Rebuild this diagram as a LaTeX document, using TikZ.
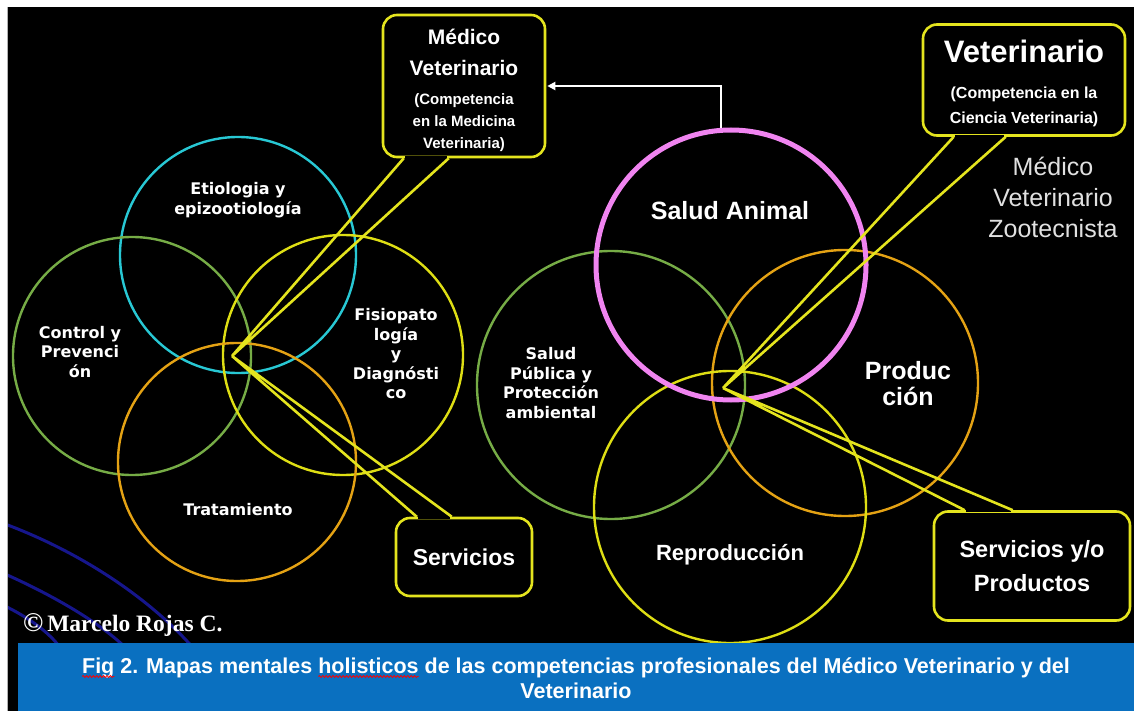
\documentclass[tikz,border=0pt]{standalone}
\usepackage{fontspec}
\setmainfont{Liberation Sans}
\newfontfamily\dejab{DejaVu Sans}
\newfontfamily\serifb{Liberation Serif}
\usetikzlibrary{arrows.meta,calc,decorations.pathmorphing}
\definecolor{cyanc}{RGB}{40,200,212}
\definecolor{greenc}{RGB}{118,172,70}
\definecolor{yelc}{RGB}{222,222,20}
\definecolor{orc}{RGB}{228,162,20}
\definecolor{pinkc}{RGB}{240,132,240}
\definecolor{callc}{RGB}{228,228,30}
\definecolor{bandc}{RGB}{10,112,192}
\definecolor{navyc}{RGB}{22,22,140}
\newlength\capW
\newlength\figW
\newlength\preW
\newlength\holW
\newcommand\capfont{\bfseries\fontsize{21.5}{25}\selectfont}
\begin{document}
\settowidth\capW{\capfont Fig 2. Mapas mentales holisticos de las competencias profesionales del Médico Veterinario y del}%
\settowidth\figW{\capfont Fig}%
\settowidth\preW{\capfont Fig 2. Mapas mentales }%
\settowidth\holW{\capfont holisticos}%
\begin{tikzpicture}[x=1pt,y=-1pt,
  ring/.style={circle,draw,line width=2.4pt,inner sep=0pt,minimum size=#1},
  wtxt/.style={text=white,align=center,inner sep=0pt},
  cfont/.style={font=\dejab\bfseries\fontsize{16}{19.5}\selectfont},
  callout/.style={draw=callc,line width=2.6pt,rounded corners=14pt,fill=black,text=white,align=center,inner sep=0pt},
  tail/.style={draw=callc,line width=2.6pt,line join=miter},
  gapcover/.style={draw=black,line width=4pt},
  arr/.style={draw=white,line width=2pt,-{Triangle[length=8pt,width=8pt]},shorten >=1pt},
  wave/.style={draw=red,line width=0.8pt,decorate,decoration={snake,amplitude=1pt,segment length=3.4pt}},
]
\useasboundingbox (0,0) rectangle (1134,711);
\fill[white] (0,0) rectangle (1134,711);
\fill[black] (7,7) rectangle (1134,711);
\draw[gray!60,line width=1pt] (7.5,7) -- (7.5,711);

% decorative arcs
\begin{scope}
\clip (8,7) rectangle (1134,643);
\draw[navyc,line width=3pt] (5,524) .. controls (80,552) and (150,598) .. (195,650);
\draw[navyc,line width=3pt] (5,574) .. controls (50,594) and (100,622) .. (128,650);
\draw[navyc,line width=3pt] (5,606) .. controls (25,616) and (48,630) .. (62,650);
\end{scope}

% left group circles
\node[ring=236,draw=cyanc] (eti) at (238,255) {};
\node[ring=238,draw=greenc] (con) at (132,356) {};
\node[ring=240,draw=yelc] (fis) at (343,355) {};
\node[ring=238,draw=orc] (tra) at (237,462) {};

% right group circles
\node[ring=268,draw=greenc] (spu) at (611,385) {};
\node[ring=266,draw=orc] (pro) at (845,383) {};
\node[ring=272,draw=yelc] (rep) at (730,507) {};
\node[ring=270,draw=pinkc,line width=5pt] (san) at (731,265) {};

% circle texts
\node[wtxt,cfont] (teti) at (238,200) {Etiologia y\\epizootiología};
\node[wtxt,cfont] (tcon) at (80,352) {Control y\\Prevenci\\ón};
\node[wtxt,cfont] (tfis) at (396,354) {Fisiopato\\logía\\y\\Diagnósti\\co};
\node[wtxt,cfont] (ttra) at (238,510) {Tratamiento};
\node[wtxt,cfont] (tspu) at (551,383) {Salud\\Pública y\\Protección\\ambiental};
\node[wtxt,font=\bfseries\fontsize{25}{28}\selectfont] (tsan) at (730,211) {Salud Animal};
\node[wtxt,font=\bfseries\fontsize{25}{26}\selectfont] (tpro) at (908,384) {Produc\\ción};
\node[wtxt,font=\bfseries\fontsize{22}{26}\selectfont] (trep) at (730,555) {Reproducción};
\node[wtxt,text=white!88!black,font=\fontsize{25}{31}\selectfont] (tmvz) at (1053,197) {Médico\\Veterinario\\Zootecnista};

% callouts
\node[callout,minimum width=162,minimum height=142,font=\bfseries\fontsize{15}{22}\selectfont] (med) at (464,86)
  {{\fontsize{21}{22}\selectfont\rule{0pt}{25pt}Médico}\\[9pt]{\fontsize{21}{22}\selectfont Veterinario}\\[7pt](Competencia\\en la Medicina\\Veterinaria)};
\node[callout,minimum width=202,minimum height=111,font=\bfseries\fontsize{16}{25}\selectfont] (vet) at (1024,80)
  {{\fontsize{31}{23}\selectfont\rule{0pt}{29pt}Veterinario}\\[11pt](Competencia en la\\Ciencia Veterinaria)};
\node[callout,minimum width=136,minimum height=78,font=\bfseries\fontsize{23}{30}\selectfont] (serv) at (464,557) {Servicios};
\node[callout,minimum width=196,minimum height=109,font=\bfseries\fontsize{23.5}{34}\selectfont] (svp) at (1032,566) {Servicios y/o\\Productos};

% tails
\coordinate (apexL) at (232,356);
\coordinate (apexR) at (723,388);
\coordinate (medA) at ($(med.south west)+(22,0)$);
\coordinate (medB) at ($(med.south west)+(67,0)$);
\coordinate (servA) at ($(serv.north west)+(22,0)$);
\coordinate (servB) at ($(serv.north west)+(57,0)$);
\coordinate (vetA) at ($(vet.south west)+(32,0)$);
\coordinate (vetB) at ($(vet.south west)+(84,0)$);
\coordinate (svpA) at ($(svp.north west)+(32,0)$);
\coordinate (svpB) at ($(svp.north west)+(80,0)$);
\draw[gapcover] ($(medA)+(1.5,0)$) -- ($(medB)+(-1.5,0)$);
\draw[gapcover] ($(servA)+(1.5,0)$) -- ($(servB)+(-1.5,0)$);
\draw[gapcover] ($(vetA)+(1.5,0)$) -- ($(vetB)+(-1.5,0)$);
\draw[gapcover] ($(svpA)+(1.5,0)$) -- ($(svpB)+(-1.5,0)$);
\draw[tail] (medA) -- (apexL) -- (medB);
\draw[tail] (servA) -- (apexL) -- (servB);
\draw[tail] (vetA) -- (apexR) -- (vetB);
\draw[tail] (svpA) -- (apexR) -- (svpB);

% arrow
\draw[arr] (san.94) |- (med.east);

% copyright
\node[anchor=west,text=white,inner sep=0pt,font=\serifb\bfseries\fontsize{23.5}{26}\selectfont] (copy) at (23,625) {{\fontsize{27}{26}\selectfont ©}\,Marcelo Rojas C.};

% caption band
\fill[bandc] (18,643) rectangle (1134,711);
\node[wtxt,font=\capfont] (cap) at (576,678)
  {Fig 2. Mapas mentales holisticos de las competencias profesionales del Médico Veterinario y del\\Veterinario};
\pgfmathsetmacro\capL{576-0.5*\capW}
\pgfmathsetmacro\figR{\capL+\figW}
\pgfmathsetmacro\holL{\capL+\preW}
\pgfmathsetmacro\holR{\holL+\holW}
\coordinate (w1a) at (\capL,676.5);
\coordinate (w1b) at (\figR,676.5);
\coordinate (w2a) at (\holL,676.5);
\coordinate (w2b) at (\holR,676.5);
\draw[wave] (w1a) -- (w1b);
\draw[wave] (w2a) -- (w2b);
\end{tikzpicture}
\end{document}
